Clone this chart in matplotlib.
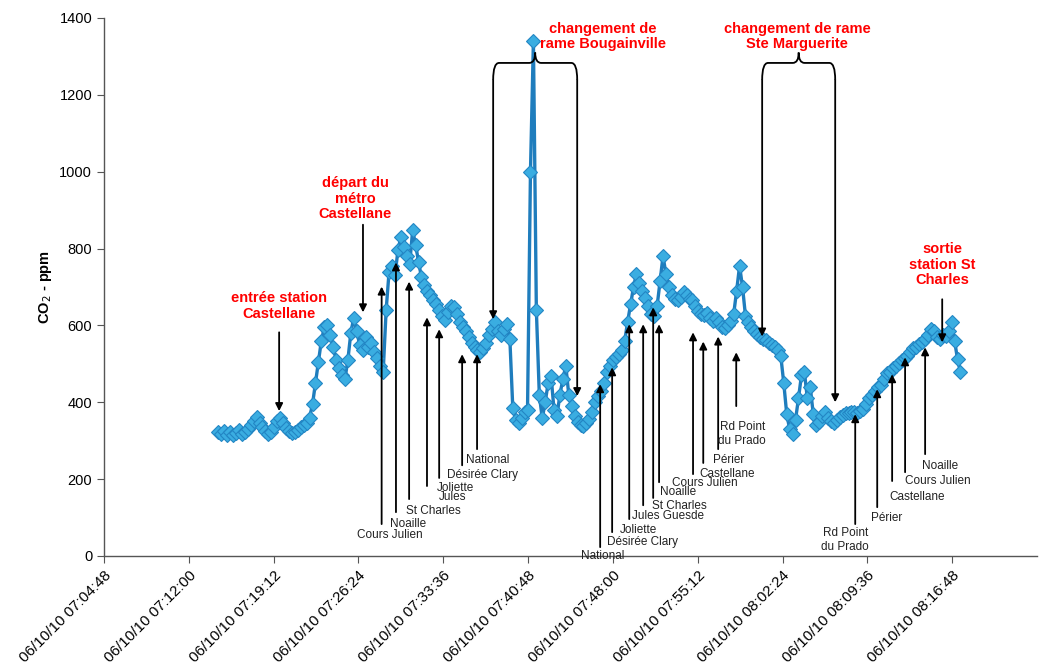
import matplotlib
matplotlib.use("Agg")
import matplotlib.pyplot as plt
import matplotlib.dates as mdates
from matplotlib.path import Path
from matplotlib.patches import PathPatch
import pandas as pd

DAY = "2010-10-06 "

# CO2 readings logged every 15 s from 07:14:30
start_time = DAY + "07:14:30"
co2_ppm = [
    322, 318, 326, 316, 322, 314, 320, 328, 318, 322,
    330, 340, 352, 362, 345, 335, 325, 318, 322, 335,
    350, 358, 345, 332, 325, 320, 322, 328, 335, 340,
    345, 360, 395, 450, 505, 560, 595, 600, 575, 545,
    510, 490, 470, 460, 510, 580, 620, 585, 550, 535,
    570, 545, 555, 530, 515, 495, 480, 640, 740, 755,
    730, 795, 830, 805, 780, 760, 848, 810, 765, 725,
    705, 690, 678, 665, 655, 640, 625, 615, 635, 650,
    648, 630, 610, 597, 585, 570, 555, 545, 535, 530,
    540, 555, 575, 590, 608, 585, 575, 590, 603, 565,
    385, 355, 345, 360, 375, 380, 1000, 1340, 640, 420,
    358, 400, 450, 468, 380, 365, 420, 460, 495, 420,
    390, 365, 348, 340, 338, 345, 356, 375, 400, 415,
    430, 450, 480, 495, 510, 518, 525, 535, 560, 610,
    655, 700, 735, 710, 690, 672, 650, 630, 625, 650,
    715, 780, 735, 700, 680, 668, 665, 675, 686, 680,
    670, 665, 650, 638, 630, 628, 632, 620, 612, 620,
    610, 595, 592, 600, 612, 630, 690, 755, 700, 625,
    610, 595, 585, 578, 570, 565, 562, 555, 550, 545,
    535, 520, 450, 370, 330, 318, 355, 410, 470, 480,
    410, 440, 370, 340, 348, 365, 375, 358, 350, 345,
    355, 362, 368, 372, 372, 374, 375, 372, 378, 382,
    395, 410, 420, 430, 440, 445, 460, 475, 480, 488,
    495, 502, 510, 515, 520, 530, 540, 545, 552, 558,
    565, 575, 590, 585, 570, 565, 575, 572, 585, 608,
    560, 512, 478,
]
times = pd.date_range(start_time, periods=len(co2_ppm), freq="15s")

# stations: (name, arrow time, arrow tip, arrow tail, label time, label y)
stations = [
    ("Cours Julien", "07:28:22", 701, 83, "07:29:05", 55),
    ("Noaille", "07:29:35", 764, 114, "07:30:37", 83),
    ("St Charles", "07:30:42", 714, 148, "07:32:44", 117),
    ("Joliette", "07:32:13", 621, 182, "07:34:36", 177),
    ("Jules", "07:33:15", 590, 203, "07:34:26", 153),
    ("Désirée Clary", "07:35:12", 525, 236, "07:36:54", 210),
    ("National", "07:36:28", 525, 278, "07:37:24", 249),
    ("National", "07:46:55", 447, 23, "07:47:10", 0),
    ("Désirée Clary", "07:47:56", 491, 62, "07:50:29", 36),
    ("Joliette", "07:49:23", 603, 96, "07:50:08", 68),
    ("Jules Guesde", "07:50:34", 603, 132, "07:52:41", 104),
    ("St Charles", "07:51:25", 647, 151, "07:53:37", 130),
    ("Noaille", "07:51:55", 603, 192, "07:53:32", 166),
    ("Cours Julien", "07:54:48", 582, 213, "07:55:50", 190),
    ("Castellane", "07:55:40", 558, 242, "07:57:42", 213),
    ("Périer", "07:56:56", 571, 278, "07:57:47", 249),
    ("Rd Point\ndu Prado", "07:58:28", 530, 390, "07:58:58", 317),
    ("Rd Point\ndu Prado", "08:08:34", 369, 83, "08:07:43", 42),
    ("Périer", "08:10:26", 434, 127, "08:11:12", 99),
    ("Castellane", "08:11:42", 473, 195, "08:13:50", 153),
    ("Cours Julien", "08:12:48", 517, 218, "08:15:37", 195),
    ("Noaille", "08:14:30", 543, 265, "08:15:47", 234),
]

# events in red: (text, text time, text y, arrow time, arrow tail, arrow tip)
events = [
    ("entrée station\nCastellane", "07:19:40", 651, "07:19:40", 582, 377),
    ("départ du\nmétro\nCastellane", "07:26:07", 930, "07:26:47", 862, 634),
    ("sortie\nstation St\nCharles", "08:15:57", 758, "08:15:57", 668, 556),
]

# train changes: (text, text time, left end, left tip, right end, right tip)
changes = [
    ("changement de\nrame Bougainville", "07:47:10", "07:37:50", 616, "07:44:58", 416),
    ("changement de rame\nSte Marguerite", "08:03:38", "08:00:40", 571, "08:06:52", 400),
]


def t(hms):
    return mdates.date2num(pd.Timestamp(DAY + hms))


def arrow(ax, x, y_tail, y_tip):
    ax.annotate("", xy=(x, y_tip), xytext=(x, y_tail),
                arrowprops=dict(arrowstyle="-|>", color="black", lw=1.3,
                                mutation_scale=11, shrinkA=0, shrinkB=0),
                zorder=4)


def brace(ax, x0, x1, yb=1239, ym=1283, yt=1310, r=30 / 86400):
    xc = (x0 + x1) / 2
    verts = [(x0, yb), (x0, ym), (x0 + r, ym),
             (xc - r, ym), (xc, ym), (xc, yt),
             (xc, ym), (xc + r, ym),
             (x1 - r, ym), (x1, ym), (x1, yb)]
    codes = [Path.MOVETO, Path.CURVE3, Path.CURVE3,
             Path.LINETO, Path.CURVE3, Path.CURVE3,
             Path.CURVE3, Path.CURVE3,
             Path.LINETO, Path.CURVE3, Path.CURVE3]
    ax.add_patch(PathPatch(Path(verts, codes), fill=False, lw=1.3,
                           edgecolor="black", zorder=4))


plt.rcParams["font.family"] = ["Liberation Sans", "DejaVu Sans"]

fig = plt.figure(figsize=(10.41, 6.68), dpi=100)
ax = fig.add_axes([0.0999, 0.1677, 0.8963, 0.8054])

ax.plot(times, co2_ppm, "-D", color="#1f7dbd", lw=2.4, ms=7.5,
        markerfacecolor="#3aade1", markeredgecolor="#2386c4", mew=0.8,
        zorder=2)

for name, xt, tip, tail, lx, ly in stations:
    arrow(ax, t(xt), tail, tip)
    ax.text(t(lx), ly, name, fontsize=8.5, color="#222222",
            ha="center", va="center", multialignment="center", zorder=5)

for text, tx, ty, ax_t, tail, tip in events:
    ax.text(t(tx), ty, text, fontsize=10.5, fontweight="bold", color="#ff0000",
            ha="center", va="center", multialignment="center",
            linespacing=1.15, zorder=5)
    arrow(ax, t(ax_t), tail, tip)

for text, tx, left, ltip, right, rtip in changes:
    ax.text(t(tx), 1352, text, fontsize=10.5, fontweight="bold", color="#ff0000",
            ha="center", va="center", multialignment="center",
            linespacing=1.15, zorder=5)
    brace(ax, t(left), t(right))
    arrow(ax, t(left), 1239, ltip)
    arrow(ax, t(right), 1239, rtip)

ax.set_ylim(0, 1400)
ax.set_yticks(range(0, 1401, 200))
ax.set_xlim(t("07:04:48"), t("08:24:00"))
ticks = pd.date_range(DAY + "07:04:48", periods=11, freq="432s")
ax.set_xticks(mdates.date2num(ticks))
ax.xaxis.set_major_formatter(mdates.DateFormatter("%d/%m/%y %H:%M:%S"))
for lab in ax.get_xticklabels():
    lab.set_rotation(45)
    lab.set_ha("right")
    lab.set_rotation_mode("anchor")
ax.tick_params(axis="x", labelsize=11, length=5, color="#555555", pad=4)
ax.tick_params(axis="y", labelsize=10.5, length=5, color="#555555")

ax.set_ylabel("CO$_2$ - ppm", fontsize=10.5, fontweight="bold", labelpad=4)

for side in ("top", "right"):
    ax.spines[side].set_visible(False)
for side in ("left", "bottom"):
    ax.spines[side].set_color("#555555")
    ax.spines[side].set_linewidth(1.0)

fig.savefig("out.png", dpi=100)
